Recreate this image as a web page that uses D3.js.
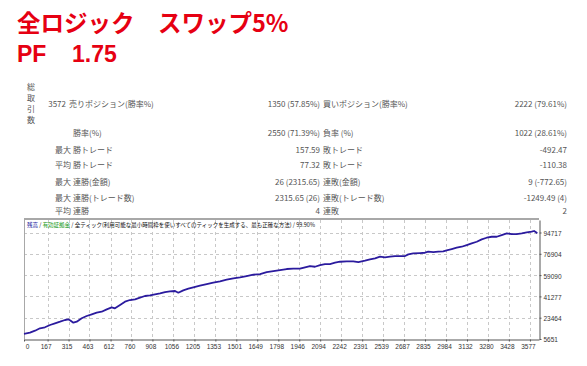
<!DOCTYPE html>
<html>
<head>
<meta charset="utf-8">
<script src="https://cdn.jsdelivr.net/npm/d3@7"></script>
<style>
  body { margin: 0; background: #fff; }
  svg { display: block; }
</style>
</head>
<body>
<div id="chart"></div>
<script>
// Title lines
var titleText = "全ロジック\u3000スワップ5%";
var pfLabel = "PF";
var pfValue = "1.75";

// Stats table
var totalTrades = "3572";
var totalLabel = ["総", "取", "引", "数"];
var rowPrefix = ["", "", "最大", "平均", "最大", "最大", "平均"];
var leftLabels = ["売りポジション(勝率%)", "勝率(%)", "勝トレード", "勝トレード", "連勝(金額)", "連勝(トレード数)", "連勝"];
var leftValues = ["1350 (57.85%)", "2550 (71.39%)", "157.59", "77.32", "26 (2315.65)", "2315.65 (26)", "4"];
var rightLabels = ["買いポジション(勝率%)", "負率 (%)", "敗トレード", "敗トレード", "連敗(金額)", "連敗(トレード数)", "連敗"];
var rightValues = ["2222 (79.61%)", "1022 (28.61%)", "-492.47", "-110.38", "9 (-772.65)", "-1249.49 (4)", "2"];

// Balance curve (trade number, balance)
var trades = [0, 42, 78, 113, 148, 184, 219, 255, 290, 313, 330, 349, 373, 408, 443, 479, 514, 549, 585, 620,
  643, 679, 714, 749, 785, 820, 855, 891, 926, 962, 997, 1032, 1068, 1091, 1126, 1162, 1197, 1244, 1292, 1338,
  1386, 1433, 1480, 1527, 1574, 1621, 1669, 1716, 1763, 1810, 1857, 1904, 1951, 1987, 2022, 2057, 2093, 2128, 2163, 2199,
  2234, 2281, 2328, 2364, 2411, 2446, 2482, 2517, 2552, 2588, 2623, 2658, 2694, 2717, 2752, 2800, 2835, 2858, 2894, 2929,
  2964, 2988, 3024, 3059, 3094, 3130, 3165, 3201, 3236, 3271, 3307, 3342, 3377, 3413, 3448, 3483, 3519, 3554, 3589, 3606,
  3620, 3629];
var balance = [10000, 10920, 12590, 14600, 15440, 17360, 18780, 20120, 21540, 22120, 20950, 19280, 20120, 22960, 24880, 26300, 27640, 28480, 30480, 32150,
  31320, 34080, 36840, 38250, 38840, 40180, 41600, 42180, 43020, 43860, 44940, 45530, 45780, 44360, 46360, 47700, 48870, 50210, 51630, 52720,
  53890, 55230, 56400, 57230, 58320, 59400, 59990, 61660, 62500, 63340, 64180, 64430, 64430, 65590, 66680, 66080, 67510, 68350, 68350, 69440,
  70270, 70600, 70600, 70020, 71110, 72280, 73120, 74460, 73950, 74460, 75040, 75040, 75040, 76460, 77290, 77550, 77800, 78640, 78380, 78640,
  78970, 79810, 80890, 81980, 82810, 84230, 85660, 86990, 89000, 90340, 91170, 91170, 92600, 94020, 93440, 93440, 94020, 94880, 95380, 95970,
  94880, 94020];

// Axis tick labels
var xTicks = [0, 167, 315, 463, 612, 760, 908, 1056, 1205, 1353, 1501, 1649, 1798, 1946, 2094, 2242, 2391, 2539, 2687, 2835, 2984, 3132, 3280, 3428, 3577];
var yTicks = [5651, 23464, 41277, 59090, 76904, 94717];

var svgWidth = 587;
var svgHeight = 366;

var plot = { left: 24, right: 539, top: 220, bottom: 339 };

var svg = d3.select("#chart")
  .append("svg")
  .attr("width", svgWidth)
  .attr("height", svgHeight);

// Red title
svg.append("text")
  .attr("x", 17)
  .attr("y", 32)
  .attr("font-family", "'Noto Sans CJK JP', sans-serif")
  .attr("font-weight", "bold")
  .attr("font-size", "23.5px")
  .attr("fill", "#e60012")
  .text(titleText);

svg.selectAll(".pf")
  .data([pfLabel, pfValue])
  .join("text")
  .attr("class", "pf")
  .attr("x", (d, i) => i === 0 ? 17 : 72)
  .attr("y", 62)
  .attr("font-family", "'Liberation Sans', Arial, sans-serif")
  .attr("font-weight", "bold")
  .attr("font-size", "23px")
  .attr("fill", "#e60012")
  .text(d => d);

// Stats table
var tableFont = "'Noto Sans CJK JP', sans-serif";
var tableColor = "#555";
var rowY = [103, 132, 149, 164, 181, 197, 210];
var table = svg.append("g")
  .attr("font-family", tableFont)
  .attr("font-size", "8px")
  .attr("fill", tableColor)
  .attr("dominant-baseline", "central");

table.selectAll(".total")
  .data(totalLabel)
  .join("text")
  .attr("x", 27)
  .attr("y", (d, i) => 86 + i * 11.3)
  .text(d => d);

table.append("text")
  .attr("x", 66)
  .attr("y", rowY[0])
  .attr("text-anchor", "end")
  .text(totalTrades);

rowY.forEach(function(y, i) {
  table.append("text").attr("x", 55).attr("y", y).text(rowPrefix[i]);
  table.append("text").attr("x", i === 0 ? 69 : 73).attr("y", y).text(leftLabels[i]);
  table.append("text").attr("x", 320).attr("y", y).attr("text-anchor", "end").text(leftValues[i]);
  table.append("text").attr("x", 323).attr("y", y).text(rightLabels[i]);
  table.append("text").attr("x", 567).attr("y", y).attr("text-anchor", "end").text(rightValues[i]);
});

// Scales
var xScale = d3.scaleLinear()
  .domain([0, 3641])
  .range([plot.left, plot.right]);

var yScale = d3.scaleLinear()
  .domain([5651, 105171])
  .range([plot.bottom, plot.top]);

// Grid
var grid = svg.append("g")
  .attr("stroke", "#c8c8c8")
  .attr("stroke-width", 1)
  .attr("stroke-dasharray", "3,3");

grid.selectAll(".vgrid")
  .data(xTicks.slice(1))
  .join("line")
  .attr("x1", d => Math.round(xScale(d)) + 0.5)
  .attr("x2", d => Math.round(xScale(d)) + 0.5)
  .attr("y1", plot.top)
  .attr("y2", plot.bottom);

grid.selectAll(".hgrid")
  .data(yTicks.slice(1))
  .join("line")
  .attr("x1", plot.left)
  .attr("x2", plot.right)
  .attr("y1", d => Math.round(yScale(d)) + 0.5)
  .attr("y2", d => Math.round(yScale(d)) + 0.5);

// Frame
svg.append("line")
  .attr("x1", plot.left).attr("x2", plot.right)
  .attr("y1", plot.top - 1).attr("y2", plot.top - 1)
  .attr("stroke", "#a8a8a8").attr("stroke-width", 2);
svg.append("line")
  .attr("x1", plot.left + 0.5).attr("x2", plot.left + 0.5)
  .attr("y1", plot.top - 2).attr("y2", plot.bottom)
  .attr("stroke", "#a8a8a8");

// Axes
var bottomAxis = d3.axisBottom(xScale)
  .tickValues(xTicks)
  .tickSize(2)
  .tickSizeOuter(0)
  .tickFormat(d => d);

var xAxis = svg.append("g")
  .attr("transform", `translate(0, ${plot.bottom + 0.5})`)
  .call(bottomAxis);

xAxis.select(".domain").attr("stroke", "#555");
xAxis.selectAll(".tick line").attr("stroke", "#555");
xAxis.selectAll(".tick text")
  .attr("font-family", "'Liberation Sans', Arial, sans-serif")
  .attr("font-size", "6.5px")
  .attr("fill", "#333")
  .attr("y", 5)
  .attr("dx", d => d === 0 ? 3 : -2);

var rightAxis = d3.axisRight(yScale)
  .tickValues(yTicks)
  .tickSize(2)
  .tickSizeOuter(0)
  .tickFormat(d => d);

var yAxis = svg.append("g")
  .attr("transform", `translate(${plot.right + 0.5}, 0)`)
  .call(rightAxis);

yAxis.select(".domain").attr("stroke", "#555");
yAxis.selectAll(".tick line").attr("stroke", "#555");
yAxis.selectAll(".tick text")
  .attr("font-family", "'Liberation Sans', Arial, sans-serif")
  .attr("font-size", "6.5px")
  .attr("fill", "#333")
  .attr("x", 4)
  .attr("dy", "0.45em");

// Header inside the chart
var header = svg.append("text")
  .attr("x", 27)
  .attr("y", 227)
  .attr("font-family", "'Noto Sans CJK JP', sans-serif")
  .attr("font-size", "6px")
  .attr("fill", "#111")
  .attr("textLength", 288)
  .attr("lengthAdjust", "spacingAndGlyphs");
header.append("tspan").attr("fill", "#2020a0").text("残高");
header.append("tspan").text(" / ");
header.append("tspan").attr("fill", "#1a9a1a").text("有効証拠金");
header.append("tspan").text(" / 全ティック(利用可能な最小時間枠を使いすべてのティックを生成する、最も正確な方法) / 99.90%");

// Balance line
var points = trades.map((t, i) => [t, balance[i]]);

var line = d3.line()
  .x(d => xScale(d[0]))
  .y(d => yScale(d[1]));

svg.append("path")
  .datum(points)
  .attr("d", line)
  .attr("fill", "none")
  .attr("stroke", "#2b1b9e")
  .attr("stroke-width", 1.8)
  .attr("stroke-linejoin", "round");
</script>
</body>
</html>
